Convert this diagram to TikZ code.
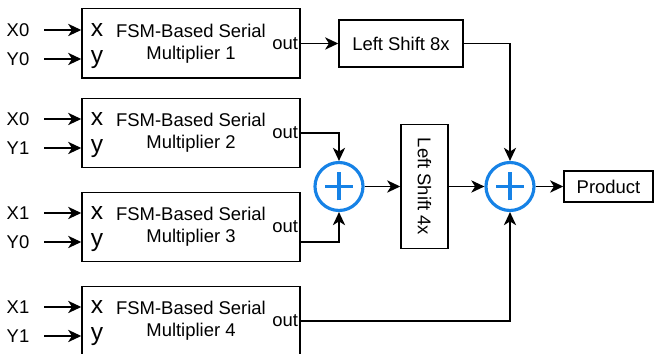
\documentclass[tikz,border=0pt]{standalone}
\usepackage{fontspec}
\setmainfont{Liberation Sans}
\usetikzlibrary{arrows.meta}
\definecolor{addblue}{RGB}{22,130,230}

\begin{document}
\begin{tikzpicture}
      [x=0.02cm, y=-0.02cm, line width=0.85pt,
        font=\fontsize{10.5}{12.5}\selectfont,
        arr/.style={-{Stealth[length=7.5pt, width=7pt, inset=2.2pt]}},
        mult/.style={draw, minimum width=4.36cm, minimum height=1.39cm, align=center, inner sep=0},
        shiftbox/.style={draw, minimum width=2.48cm, minimum height=0.94cm, inner sep=0},
        port/.style={font=\fontsize{14}{14}\selectfont, inner sep=0},
        outlab/.style={anchor=east, inner xsep=0.04cm, inner ysep=0},
        inlab/.style={inner xsep=0.28cm, inner ysep=0},
        adder/.style={circle, draw=addblue, line width=1.8pt, minimum size=0.96cm,
          path picture={\draw[addblue, line width=1.8pt]
            (path picture bounding box.center) ++(-0.28cm,0) -- ++(0.56cm,0)
            (path picture bounding box.center) ++(0,-0.28cm) -- ++(0,0.56cm);}}]
      \useasboundingbox (0,0) rectangle (654,354);
      % multipliers
      \node[mult] (m1) at (191,43.5) {FSM-Based Serial\\Multiplier 1};
      \node[mult] (m2) at (191,133) {FSM-Based Serial\\Multiplier 2};
      \node[mult] (m3) at (191,227) {FSM-Based Serial\\Multiplier 3};
      \node[mult] (m4) at (191,321) {FSM-Based Serial\\Multiplier 4};
      \node[port] (m1x) at (97,30) {x};
      \node[port] (m1y) at (97,60) {y};
      \node[port] (m2x) at (97,119) {x};
      \node[port] (m2y) at (97,149) {y};
      \node[port] (m3x) at (97,213) {x};
      \node[port] (m3y) at (97,243) {y};
      \node[port] (m4x) at (97,307) {x};
      \node[port] (m4y) at (97,337) {y};
      \node[outlab] (m1o) at (m1.east) {out};
      \node[outlab] (m2o) at (m2.east) {out};
      \node[outlab] (m3o) at (m3.east) {out};
      \node[outlab] (m4o) at (m4.east) {out};
      % inputs
      \node[inlab] (a1) at (18,30) {X0};
      \node[inlab] (b1) at (18,59) {Y0};
      \node[inlab] (a2) at (18,119) {X0};
      \node[inlab] (b2) at (18,148) {Y1};
      \node[inlab] (a3) at (18,213) {X1};
      \node[inlab] (b3) at (18,242) {Y0};
      \node[inlab] (a4) at (18,307) {X1};
      \node[inlab] (b4) at (18,336) {Y1};
      \draw[arr] (a1) -- (a1 -| m1.west);
      \draw[arr] (b1) -- (b1 -| m1.west);
      \draw[arr] (a2) -- (a2 -| m2.west);
      \draw[arr] (b2) -- (b2 -| m2.west);
      \draw[arr] (a3) -- (a3 -| m3.west);
      \draw[arr] (b3) -- (b3 -| m3.west);
      \draw[arr] (a4) -- (a4 -| m4.west);
      \draw[arr] (b4) -- (b4 -| m4.west);
      % shifts and adders
      \node[shiftbox] (ls8) at (401,43.5) {Left Shift 8x};
      \node[adder] (add1) at (339,186.5) {};
      \node[shiftbox, rotate=-90] (ls4) at (424.5,186.5) {Left Shift 4x};
      \node[adder] (add2) at (510,186.5) {};
      \node[draw, minimum width=1.78cm, minimum height=0.62cm] (prod) at (608.5,186.5) {Product};
      \draw[arr] (m1.east) -- (ls8);
      \draw[arr] (ls8) -| (add2);
      \draw[arr] (m2.east) -| (add1);
      \draw[arr] ([yshift=-8.5pt]m3.east) -| (add1);
      \draw[arr] (m4.east) -| (add2);
      \draw[arr] (add1) -- (ls4);
      \draw[arr] (ls4) -- (add2);
      \draw[arr] (add2) -- (prod);
    \end{tikzpicture}
\end{document}
